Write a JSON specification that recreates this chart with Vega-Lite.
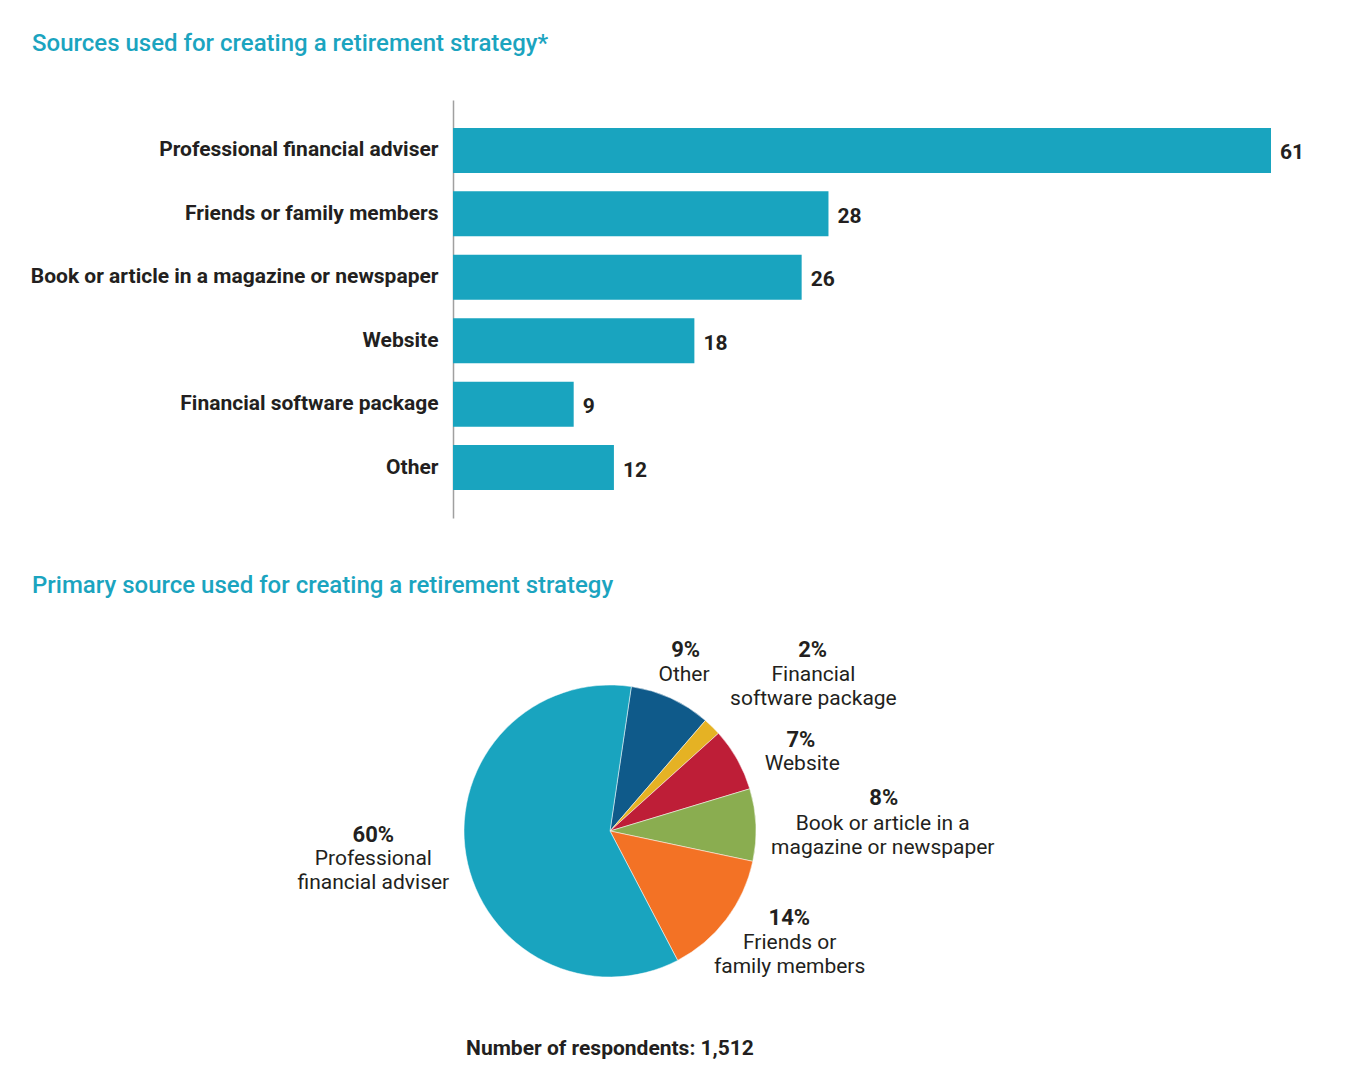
{
  "$schema": "https://vega.github.io/schema/vega-lite/v6.json",
  "background": "white",
  "padding": {"left": 30, "top": 32, "right": 0, "bottom": 0},
  "spacing": 56,
  "config": {
    "view": {"stroke": null},
    "font": "Roboto",
    "title": {"font": "Roboto", "color": "#1ba4bf", "fontSize": 24, "fontWeight": 500, "anchor": "start", "baseline": "top", "frame": "group"}
  },
  "datasets": {
    "bars": [
      {"source": "Professional financial adviser", "pct": 61},
      {"source": "Friends or family members", "pct": 28},
      {"source": "Book or article in a magazine or newspaper", "pct": 26},
      {"source": "Website", "pct": 18},
      {"source": "Financial software package", "pct": 9},
      {"source": "Other", "pct": 12}
    ],
    "pie": [
      {"cat": "Other", "label": "Other", "share": 0.09, "ord": 1},
      {"cat": "Financial software package", "label": "Financial\nsoftware package", "share": 0.02, "ord": 2},
      {"cat": "Website", "label": "Website", "share": 0.07, "ord": 3},
      {"cat": "Book or article in a magazine or newspaper", "label": "Book or article in a\nmagazine or newspaper", "share": 0.08, "ord": 4},
      {"cat": "Friends or family members", "label": "Friends or\nfamily members", "share": 0.14, "ord": 5},
      {"cat": "Professional financial adviser", "label": "Professional\nfinancial adviser", "share": 0.60, "ord": 6}
    ]
  },
  "vconcat": [
    {
      "title": {"text": "Sources used for creating a retirement strategy*", "offset": 44, "dx": -421},
      "width": 818,
      "height": 418,
      "data": {"name": "bars"},
      "encoding": {
        "y": {
          "field": "source", "type": "nominal", "sort": null,
          "scale": {"paddingInner": 0.29, "paddingOuter": 0.44},
          "axis": {"title": null, "domain": true, "domainColor": "#a0a0a0", "domainWidth": 1.5, "ticks": false, "grid": false, "labelPadding": 15, "labelFontSize": 21, "labelFontWeight": "bold", "labelColor": "#231f20", "labelLimit": 600}
        },
        "x": {"field": "pct", "type": "quantitative", "scale": {"domain": [0, 61], "nice": false}, "axis": null}
      },
      "layer": [
        {"mark": {"type": "bar", "color": "#19a4bf"}},
        {"mark": {"type": "text", "align": "left", "baseline": "middle", "dx": 9, "dy": 3, "fontSize": 21, "fontWeight": "bold", "color": "#231f20"},
         "encoding": {"text": {"field": "pct", "type": "quantitative"}}}
      ]
    },
    {
      "title": {"text": "Primary source used for creating a retirement strategy", "offset": 33, "dx": -421},
      "vconcat": [
        {
          "title": {"text": "Number of respondents: 1,512", "orient": "bottom", "anchor": "middle", "frame": "group", "color": "#231f20", "fontSize": 21, "fontWeight": "bold", "offset": 7},
          "width": 314,
          "height": 400,
          "data": {"name": "pie"},
          "transform": [
            {"stack": "share", "groupby": [], "sort": [{"field": "ord", "order": "ascending"}], "as": ["s0", "s1"]},
            {"fold": ["s0", "s1"], "as": ["edge", "pos"]},
            {"aggregate": [{"op": "mean", "field": "pos", "as": "mid"}], "groupby": ["cat", "label", "share", "ord"]}
          ],
          "layer": [
            {"mark": {"type": "arc", "radius": 146, "stroke": "white", "strokeWidth": 0.5},
             "encoding": {
               "theta": {"field": "share", "type": "quantitative", "stack": true, "scale": {"range": [0.1466, 6.4298]}},
               "order": {"field": "ord", "type": "quantitative"},
               "color": {"field": "cat", "type": "nominal", "legend": null,
                 "scale": {"domain": ["Other", "Financial software package", "Website", "Book or article in a magazine or newspaper", "Friends or family members", "Professional financial adviser"],
                           "range": ["#0f5a8a", "#e5b224", "#be1e37", "#8aad50", "#f37225", "#19a4bf"]}}}},

            {"transform": [{"filter": "datum.ord === 1"}],
             "mark": {"type": "text", "radius": 196, "dx": -6, "dy": -3, "fontSize": 22, "fontWeight": "bold", "align": "center", "baseline": "middle", "color": "#231f20"},
             "encoding": {"theta": {"field": "mid", "type": "quantitative", "stack": null}, "text": {"field": "share", "type": "quantitative", "format": ".0%"}}},
            {"transform": [{"filter": "datum.ord === 1"}],
             "mark": {"type": "text", "radius": 173, "dx": 2, "dy": 1, "fontSize": 21, "fontWeight": "normal", "align": "center", "baseline": "middle", "lineBreak": "\n", "lineHeight": 24, "color": "#231f20"},
             "encoding": {"theta": {"field": "mid", "type": "quantitative", "stack": null}, "text": {"field": "label", "type": "nominal"}}},

            {"transform": [{"filter": "datum.ord === 2"}],
             "mark": {"type": "text", "radius": 271, "dx": 13, "dy": 13, "fontSize": 22, "fontWeight": "bold", "align": "center", "baseline": "middle", "color": "#231f20"},
             "encoding": {"theta": {"field": "mid", "type": "quantitative", "stack": null}, "text": {"field": "share", "type": "quantitative", "format": ".0%"}}},
            {"transform": [{"filter": "datum.ord === 2"}],
             "mark": {"type": "text", "radius": 245, "dx": 32, "dy": 19, "fontSize": 21, "fontWeight": "normal", "align": "center", "baseline": "middle", "lineBreak": "\n", "lineHeight": 24, "color": "#231f20"},
             "encoding": {"theta": {"field": "mid", "type": "quantitative", "stack": null}, "text": {"field": "label", "type": "nominal"}}},

            {"transform": [{"filter": "datum.ord === 3"}],
             "mark": {"type": "text", "radius": 211, "dx": 7, "dy": 13, "fontSize": 22, "fontWeight": "bold", "align": "center", "baseline": "middle", "color": "#231f20"},
             "encoding": {"theta": {"field": "mid", "type": "quantitative", "stack": null}, "text": {"field": "share", "type": "quantitative", "format": ".0%"}}},
            {"transform": [{"filter": "datum.ord === 3"}],
             "mark": {"type": "text", "radius": 200, "dx": 18, "dy": 31, "fontSize": 21, "fontWeight": "normal", "align": "center", "baseline": "middle", "lineBreak": "\n", "lineHeight": 24, "color": "#231f20"},
             "encoding": {"theta": {"field": "mid", "type": "quantitative", "stack": null}, "text": {"field": "label", "type": "nominal"}}},

            {"transform": [{"filter": "datum.ord === 4"}],
             "mark": {"type": "text", "radius": 275, "dx": -1, "dy": -21, "fontSize": 22, "fontWeight": "bold", "align": "center", "baseline": "middle", "color": "#231f20"},
             "encoding": {"theta": {"field": "mid", "type": "quantitative", "stack": null}, "text": {"field": "share", "type": "quantitative", "format": ".0%"}}},
            {"transform": [{"filter": "datum.ord === 4"}],
             "mark": {"type": "text", "radius": 272, "dx": 1, "dy": 4, "fontSize": 21, "fontWeight": "normal", "align": "center", "baseline": "middle", "lineBreak": "\n", "lineHeight": 24, "color": "#231f20"},
             "encoding": {"theta": {"field": "mid", "type": "quantitative", "stack": null}, "text": {"field": "label", "type": "nominal"}}},

            {"transform": [{"filter": "datum.ord === 5"}],
             "mark": {"type": "text", "radius": 195, "dx": 24, "dy": -31, "fontSize": 22, "fontWeight": "bold", "align": "center", "baseline": "middle", "color": "#231f20"},
             "encoding": {"theta": {"field": "mid", "type": "quantitative", "stack": null}, "text": {"field": "share", "type": "quantitative", "format": ".0%"}}},
            {"transform": [{"filter": "datum.ord === 5"}],
             "mark": {"type": "text", "radius": 218, "dx": 6, "dy": -20, "fontSize": 21, "fontWeight": "normal", "align": "center", "baseline": "middle", "lineBreak": "\n", "lineHeight": 24, "color": "#231f20"},
             "encoding": {"theta": {"field": "mid", "type": "quantitative", "stack": null}, "text": {"field": "label", "type": "nominal"}}},

            {"transform": [{"filter": "datum.ord === 6"}],
             "mark": {"type": "text", "radius": 234, "dx": -6, "dy": -35, "fontSize": 22, "fontWeight": "bold", "align": "center", "baseline": "middle", "color": "#231f20"},
             "encoding": {"theta": {"field": "mid", "type": "quantitative", "stack": null}, "text": {"field": "share", "type": "quantitative", "format": ".0%"}}},
            {"transform": [{"filter": "datum.ord === 6"}],
             "mark": {"type": "text", "radius": 240, "dx": 0, "dy": -12, "fontSize": 21, "fontWeight": "normal", "align": "center", "baseline": "middle", "lineBreak": "\n", "lineHeight": 24, "color": "#231f20"},
             "encoding": {"theta": {"field": "mid", "type": "quantitative", "stack": null}, "text": {"field": "label", "type": "nominal"}}}
          ]
        }
      ]
    }
  ]
}
